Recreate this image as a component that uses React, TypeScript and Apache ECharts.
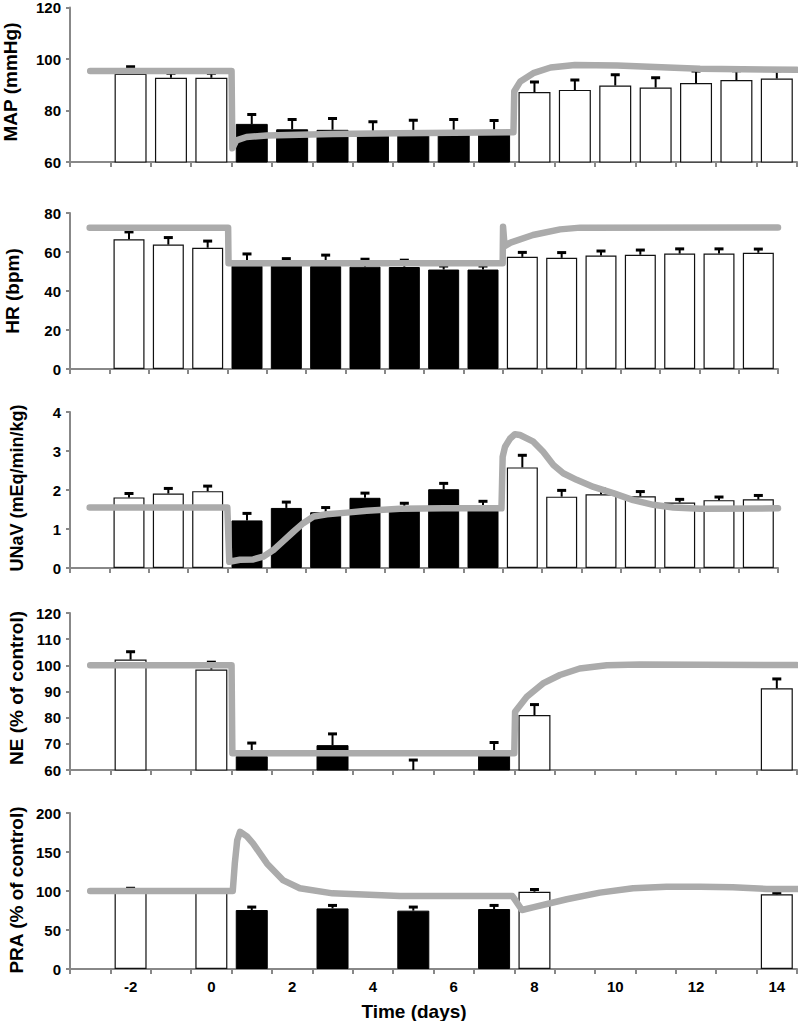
import React, { useEffect, useRef } from 'react';
import * as echarts from 'echarts';

// ---------- data ----------
const days = ['-3', '-2', '-1', '0', '1', '2', '3', '4', '5', '6', '7', '8', '9', '10', '11', '12', '13', '14'];
const treatmentDays = ['1', '2', '3', '4', '5', '6', '7'];
const xAxisTitle = 'Time (days)';

const mapMean = [null, 94.3, 92.7, 92.7, 74.8, 72.7, 72.5, 71.0, 71.0, 71.0, 71.0, 87.2, 88.0, 89.7, 88.9, 90.7, 91.8, 92.4];
const mapErr = [null, 2.7, 1.8, 1.8, 3.6, 3.8, 4.4, 4.6, 5.2, 5.5, 5.1, 3.9, 3.8, 4.2, 3.8, 4.6, 3.6, 3.0];
const mapSim = [[-3, 95.3], [0.5, 95.3], [0.52, 65.3], [0.62, 68.4], [0.87, 69.7], [1.37, 70.3], [3.0, 70.9], [4.6, 71.2], [7.48, 71.6], [7.5, 87.5], [7.65, 91.3], [7.97, 94.5], [8.4, 96.7], [9.0, 97.7], [10.05, 97.5], [11.3, 96.7], [12.1, 96.2], [14.5, 95.8]];

const hrMean = [null, 66.5, 63.8, 62.2, 53.0, 53.0, 52.8, 52.5, 52.3, 51.0, 51.0, 57.5, 57.0, 58.2, 58.6, 59.2, 59.2, 59.6];
const hrErr = [null, 3.8, 3.6, 3.4, 6.0, 3.6, 5.6, 3.8, 3.5, 1.8, 1.8, 2.3, 2.7, 2.3, 2.4, 2.4, 2.4, 1.9];
const hrSim = [[-3, 72.5], [0.52, 72.5], [0.53, 54.2], [7.5, 54.2], [7.51, 73.0], [7.55, 63.0], [7.7, 64.8], [8.27, 68.7], [8.96, 71.6], [9.47, 72.5], [14.5, 72.6]];

const unavMean = [null, 1.81, 1.91, 1.97, 1.22, 1.54, 1.43, 1.80, 1.50, 2.02, 1.58, 2.58, 1.83, 1.89, 1.84, 1.68, 1.74, 1.76];
const unavErr = [null, 0.1, 0.13, 0.13, 0.18, 0.15, 0.12, 0.12, 0.16, 0.15, 0.13, 0.31, 0.16, 0.14, 0.12, 0.08, 0.08, 0.1];
const unavSim = [[-3, 1.55], [0.5, 1.55], [0.55, 0.16], [0.82, 0.21], [1.16, 0.22], [1.41, 0.29], [1.67, 0.46], [1.92, 0.69], [2.18, 0.93], [2.43, 1.15], [2.69, 1.32], [3.03, 1.38], [3.54, 1.42], [4.04, 1.47], [4.89, 1.52], [6.0, 1.53], [7.47, 1.53], [7.5, 2.85], [7.56, 3.11], [7.69, 3.32], [7.81, 3.43], [7.94, 3.41], [8.28, 3.24], [8.53, 2.98], [8.79, 2.64], [9.04, 2.43], [9.38, 2.26], [9.81, 2.08], [10.31, 1.92], [10.82, 1.74], [11.33, 1.62], [11.84, 1.55], [12.52, 1.52], [14.5, 1.53]];

const neMean = [null, 102.2, null, 98.4, 65.3, null, 69.5, null, 59.5, null, 65.5, 81.0, null, null, null, null, null, 91.2];
const neErr = [null, 3.0, null, 2.8, 5.0, null, 4.3, null, 4.3, null, 5.0, 4.0, null, null, null, null, null, 3.6];
const neSim = [[-3, 100], [0.5, 100], [0.52, 66.4], [7.5, 66.4], [7.52, 82.3], [7.81, 88.0], [8.21, 93.1], [8.63, 96.3], [9.12, 98.8], [9.79, 100.0], [10.6, 100.3], [14.5, 100.1]];

const praMean = [null, 100, null, 100, 75.6, null, 77.7, null, 74.8, null, 76.9, 99.1, null, null, null, null, null, 95.7];
const praErr = [null, 3.5, null, 0, 3.8, null, 3.8, null, 4.6, null, 4.6, 2.8, null, null, null, null, null, 2.0];
const praSim = [[-3, 100], [0.5, 100], [0.53, 100], [0.58, 135], [0.64, 165], [0.71, 176], [0.88, 170], [1.03, 161], [1.38, 135], [1.77, 114], [2.19, 103.5], [3.0, 97], [4.67, 93.6], [7.45, 93.6], [7.52, 88.5], [7.69, 75.6], [7.96, 79], [8.8, 89.4], [9.62, 97.9], [10.44, 103.4], [11.27, 105.5], [12.1, 105.5], [12.91, 104.7], [13.75, 102.6], [14.5, 102.6]];

// ---------- layout ----------
const FONT = '"Liberation Sans", Arial, Helvetica, sans-serif';
const AXIS_GRAY = '#888888';
const SIM_GRAY = '#ababab';

const panels = [
  { name: 'MAP (mmHg)', mean: mapMean, err: mapErr, sim: mapSim, min: 60, max: 120, interval: 20, grid: { left: 70, right: 1, top: 5, height: 157 }, barWidth: 32, nameX: 10, nameY: 82, nameSize: 19 },
  { name: 'HR (bpm)', mean: hrMean, err: hrErr, sim: hrSim, min: 0, max: 80, interval: 20, grid: { left: 70, right: 20, top: 213, height: 156 }, barWidth: 31, nameX: 12, nameY: 291, nameSize: 19 },
  { name: 'UNaV (mEq/min/kg)', mean: unavMean, err: unavErr, sim: unavSim, min: 0, max: 4, interval: 1, grid: { left: 70, right: 20, top: 412, height: 156 }, barWidth: 31, nameX: 16.5, nameY: 488, nameSize: 18 },
  { name: 'NE (% of control)', mean: neMean, err: neErr, sim: neSim, min: 60, max: 120, interval: 10, grid: { left: 70, right: 1, top: 613, height: 157 }, barWidth: 32, nameX: 16.5, nameY: 688, nameSize: 19 },
  { name: 'PRA (% of control)', mean: praMean, err: praErr, sim: praSim, min: 0, max: 200, interval: 50, grid: { left: 70, right: 1, top: 813, height: 156 }, barWidth: 32, nameX: 16.5, nameY: 890, nameSize: 19 },
];

function buildOption() {
  const grid: any[] = [];
  const xAxis: any[] = [];
  const yAxis: any[] = [];
  const series: any[] = [];
  const n = panels.length;

  panels.forEach((p, i) => {
    grid.push({ ...p.grid, containLabel: false });
    const isLast = i === n - 1;
    xAxis.push({
      type: 'category',
      gridIndex: i,
      data: days,
      boundaryGap: true,
      axisLine: { show: true, onZero: false, lineStyle: { color: AXIS_GRAY, width: 2 } },
      axisTick: { show: true, interval: 0, length: 5, inside: false, lineStyle: { color: AXIS_GRAY, width: 2 } },
      axisLabel: {
        show: isLast,
        interval: (_idx: number, val: string) => Number(val) % 2 === 0,
        color: '#000',
        fontWeight: 'bold',
        fontSize: 15,
        fontFamily: FONT,
        margin: 10,
      },
      splitLine: { show: false },
    });
    yAxis.push({
      type: 'value',
      gridIndex: i,
      min: p.min,
      max: p.max,
      interval: p.interval,
      axisLine: { show: true, onZero: false, lineStyle: { color: AXIS_GRAY, width: 2 } },
      axisTick: { show: true, length: 4, lineStyle: { color: AXIS_GRAY, width: 2 } },
      axisLabel: { color: '#000', fontWeight: 'bold', fontSize: 15, fontFamily: FONT, margin: 9 },
      splitLine: { show: false },
    });
  });

  // hidden continuous x axes for the simulation curves
  panels.forEach((_p, i) => {
    xAxis.push({
      type: 'value',
      gridIndex: i,
      min: -3.5,
      max: 14.5,
      show: false,
      axisLine: { show: false, onZero: false },
      axisTick: { show: false },
      axisLabel: { show: false },
      splitLine: { show: false },
    });
  });

  panels.forEach((p, i) => {
    series.push({
      type: 'bar',
      xAxisIndex: i,
      yAxisIndex: i,
      barWidth: p.barWidth,
      z: 2,
      data: p.mean.map((v, k) => {
        if (v == null) return '-';
        const treated = treatmentDays.includes(days[k]);
        return {
          value: v,
          itemStyle: treated
            ? { color: '#000', borderColor: '#000', borderWidth: 1 }
            : { color: '#fff', borderColor: '#111', borderWidth: 1.2 },
        };
      }),
    });
    series.push({
      type: 'custom',
      xAxisIndex: i,
      yAxisIndex: i,
      z: 3,
      clip: true,
      data: p.mean
        .map((v, k) => (v == null || !p.err[k] ? null : [k, v, p.err[k]]))
        .filter((d) => d !== null),
      renderItem: (_params: any, api: any) => {
        const k = api.value(0);
        const v = api.value(1);
        const e = api.value(2);
        const p0 = api.coord([k, v]);
        const p1 = api.coord([k, v + e]);
        return {
          type: 'group',
          children: [
            { type: 'line', shape: { x1: p0[0], y1: p0[1], x2: p0[0], y2: p1[1] }, style: { stroke: '#000', lineWidth: 2 } },
            { type: 'line', shape: { x1: p0[0] - 4.5, y1: p1[1], x2: p0[0] + 4.5, y2: p1[1] }, style: { stroke: '#000', lineWidth: 3 } },
          ],
        };
      },
    });
    series.push({
      type: 'line',
      xAxisIndex: n + i,
      yAxisIndex: i,
      data: p.sim,
      showSymbol: false,
      symbol: 'none',
      smooth: false,
      z: 5,
      lineStyle: { color: SIM_GRAY, width: 6.5, cap: 'round', join: 'round' },
    });
  });

  const graphic: any[] = panels.map((p) => ({
    type: 'text',
    x: p.nameX,
    y: p.nameY,
    rotation: Math.PI / 2,
    style: {
      text: p.name,
      fill: '#000',
      fontSize: p.nameSize,
      fontWeight: 'bold',
      fontFamily: FONT,
      align: 'center',
      verticalAlign: 'middle',
      textAlign: 'center',
      textVerticalAlign: 'middle',
    },
  }));
  graphic.push({
    type: 'text',
    x: 414,
    y: 1011,
    style: {
      text: xAxisTitle,
      fill: '#000',
      fontSize: 19,
      fontWeight: 'bold',
      fontFamily: FONT,
      align: 'center',
      verticalAlign: 'middle',
      textAlign: 'center',
      textVerticalAlign: 'middle',
    },
  });

  return {
    animation: false,
    backgroundColor: '#fff',
    grid,
    xAxis,
    yAxis,
    series,
    graphic,
  };
}

export default function App() {
  const ref = useRef<HTMLDivElement>(null);
  useEffect(() => {
    if (!ref.current) return;
    const chart = echarts.init(ref.current, null, { renderer: 'svg' });
    chart.setOption(buildOption());
    return () => chart.dispose();
  }, []);
  return (
    <div
      ref={ref}
      style={{ position: 'absolute', left: 0, top: 0, width: 798, height: 1021, background: '#fff' }}
    />
  );
}
